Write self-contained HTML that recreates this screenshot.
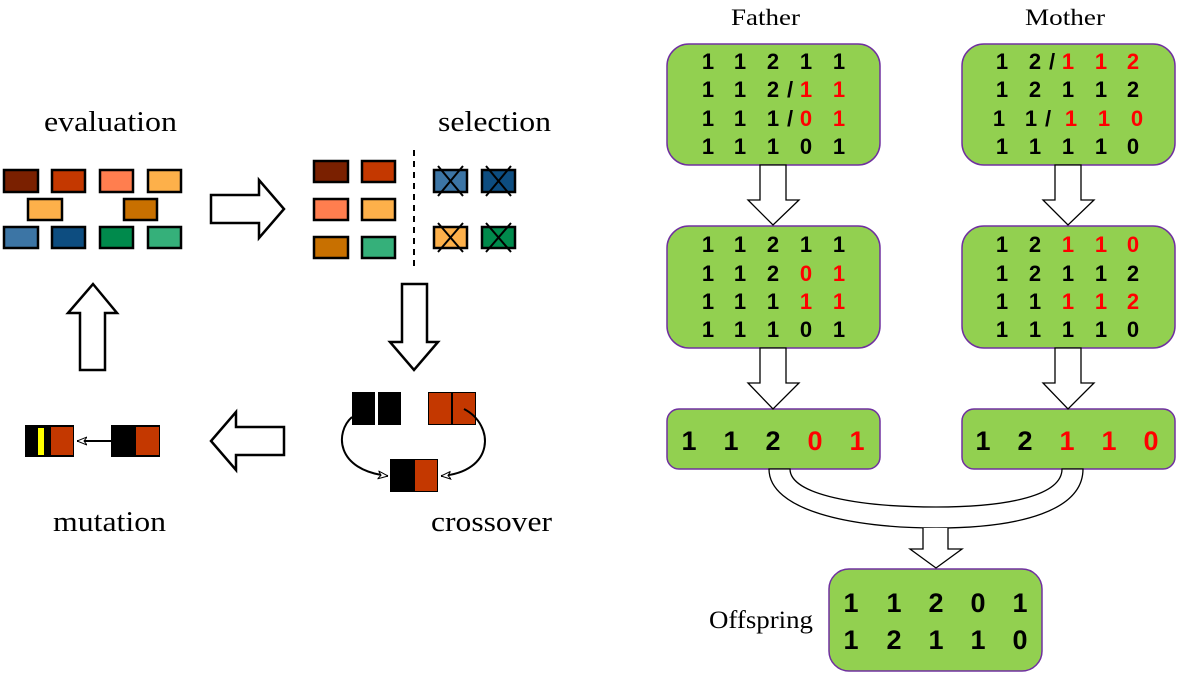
<!DOCTYPE html>
<html><head><meta charset="utf-8"><style>
html,body{margin:0;padding:0;background:#fff;}
svg{display:block;}
.lbl{font-family:"Liberation Serif",serif;font-size:29px;fill:#000;}
.d{font-family:"Liberation Sans",sans-serif;font-weight:bold;font-size:22px;text-anchor:middle;}
.D{font-family:"Liberation Sans",sans-serif;font-weight:bold;font-size:27px;text-anchor:middle;}
.r{fill:#f00;}
</style></head><body>
<svg width="1177" height="673" viewBox="0 0 1177 673" xmlns="http://www.w3.org/2000/svg">
<defs>
<marker id="ah" viewBox="0 0 10 10" refX="10" refY="5" markerWidth="10" markerHeight="10" markerUnits="userSpaceOnUse" orient="auto">
<path d="M0,1 L10,5 L0,9 L3,5 Z" fill="#fff" stroke="#000" stroke-width="1"/>
</marker>
</defs>
<!-- labels -->
<text class="lbl" x="44" y="131" textLength="133" lengthAdjust="spacingAndGlyphs">evaluation</text>
<text class="lbl" x="438" y="131" textLength="113" lengthAdjust="spacingAndGlyphs">selection</text>
<text class="lbl" x="53" y="531" textLength="113" lengthAdjust="spacingAndGlyphs">mutation</text>
<text class="lbl" x="431" y="531" textLength="121" lengthAdjust="spacingAndGlyphs">crossover</text>
<!-- evaluation rects -->
<g stroke="#000" stroke-width="2.5">
<rect x="4" y="170" width="34" height="22" fill="#7a2000"/>
<rect x="52" y="170" width="33" height="22" fill="#c43800"/>
<rect x="100" y="170" width="33" height="22" fill="#ff7e4f"/>
<rect x="148" y="170" width="33" height="22" fill="#fdb04a"/>
<rect x="28" y="199" width="34" height="21" fill="#fdb04a"/>
<rect x="124" y="199" width="33" height="21" fill="#c87000"/>
<rect x="4" y="227" width="34" height="21" fill="#3c75a5"/>
<rect x="52" y="227" width="33" height="21" fill="#0d4d80"/>
<rect x="100" y="227" width="33" height="21" fill="#008a4c"/>
<rect x="148" y="227" width="33" height="21" fill="#35b07a"/>
<!-- selection -->
<rect x="314" y="161" width="34" height="21" fill="#7a2000"/>
<rect x="362" y="161" width="33" height="21" fill="#c43800"/>
<rect x="314" y="199" width="34" height="21" fill="#ff7e4f"/>
<rect x="362" y="199" width="33" height="21" fill="#fdb04a"/>
<rect x="314" y="237" width="34" height="21" fill="#c87000"/>
<rect x="362" y="237" width="33" height="21" fill="#35b07a"/>
<rect x="434" y="170" width="33" height="22" fill="#3c75a5"/>
<rect x="482" y="170" width="33" height="22" fill="#0d4d80"/>
<rect x="434" y="227" width="33" height="21" fill="#fdb04a"/>
<rect x="482" y="227" width="33" height="21" fill="#008a4c"/>
</g>
<g stroke="#000" stroke-width="2">
<path d="M438,166 L463,196 M463,166 L438,196"/>
<path d="M486,166 L511,196 M511,166 L486,196"/>
<path d="M438,223 L463,252 M463,223 L438,252"/>
<path d="M486,223 L511,252 M511,223 L486,252"/>
</g>
<line x1="414" y1="150" x2="414" y2="267" stroke="#000" stroke-width="2" stroke-dasharray="6,5"/>
<!-- big arrows -->
<g fill="#fff" stroke="#000" stroke-width="2.5">
<path d="M211,195 L259,195 L259,180 L284,209 L259,238 L259,223 L211,223 Z"/>
<path d="M402,284 L427,284 L427,342 L438,342 L414,370 L390,342 L402,342 Z"/>
<path d="M284,427 L236,427 L236,412 L211,441 L236,470 L236,455 L284,455 Z"/>
<path d="M80,370 L80,313 L68,313 L93,284 L117,313 L105,313 L105,370 Z"/>
</g>
<!-- crossover -->
<rect x="352" y="392" width="23" height="33" fill="#000"/>
<rect x="378" y="392" width="23" height="33" fill="#000"/>
<rect x="428" y="392" width="48" height="33" fill="#000"/>
<rect x="429" y="393" width="22" height="31" fill="#c43800"/>
<rect x="453" y="393" width="22" height="31" fill="#c43800"/>
<rect x="390" y="459" width="48" height="33" fill="#000"/>
<rect x="415" y="460" width="22" height="31" fill="#c43800"/>
<path d="M352,417 C335,432 335,470 388,476" fill="none" stroke="#000" stroke-width="2" marker-end="url(#ah)"/>
<path d="M464,409 C495,425 495,472 441,476" fill="none" stroke="#000" stroke-width="2" marker-end="url(#ah)"/>
<!-- mutation -->
<rect x="25" y="425" width="49" height="32" fill="#000"/>
<rect x="38" y="428" width="6" height="27" fill="#ff0"/>
<rect x="51" y="427" width="22" height="28" fill="#c43800"/>
<rect x="111" y="425" width="49" height="32" fill="#000"/>
<rect x="136" y="427" width="23" height="28" fill="#c43800"/>
<line x1="111" y1="441" x2="77" y2="441" stroke="#000" stroke-width="2" marker-end="url(#ah)"/>

<!-- right side -->
<text class="lbl" x="731" y="25" textLength="69" lengthAdjust="spacingAndGlyphs" style="font-size:23px">Father</text>
<text class="lbl" x="1025" y="25" textLength="80" lengthAdjust="spacingAndGlyphs" style="font-size:23px">Mother</text>
<text class="lbl" x="709" y="628" textLength="104" lengthAdjust="spacingAndGlyphs" style="font-size:25px">Offspring</text>
<g fill="#92d050" stroke="#7030a0" stroke-width="1.5">
<rect x="667" y="44" width="213" height="121" rx="22"/>
<rect x="962" y="44" width="213" height="121" rx="22"/>
<rect x="667" y="226" width="213" height="122" rx="22"/>
<rect x="962" y="226" width="213" height="122" rx="22"/>
<rect x="667" y="409" width="213" height="60" rx="12"/>
<rect x="962" y="409" width="213" height="60" rx="12"/>
<rect x="829" y="569" width="213" height="102" rx="20"/>
</g>
<g fill="#fff" stroke="#000" stroke-width="1.3">
<path d="M760,165 L760,200 L748,200 L773,225 L799,200 L786,200 L786,165 Z"/>
<path d="M1055,165 L1055,200 L1043,200 L1068,225 L1094,200 L1081,200 L1081,165 Z"/>
<path d="M760,348 L760,383 L748,383 L773,409 L799,383 L786,383 L786,348 Z"/>
<path d="M1055,348 L1055,383 L1043,383 L1068,409 L1094,383 L1081,383 L1081,348 Z"/>
<path d="M769,469 C769,510 850,528 936,528 C1022,528 1083,510 1083,469 L1062,469 C1062,495 1010,507 936,507 C860,507 790,495 790,469 Z"/>
<path d="M923,528 L923,549 L910,549 L936,568 L962,549 L948,549 L948,528" />
</g>
<g class="d">
<text x="708" y="69">1</text><text x="740" y="69">1</text><text x="773" y="69">2</text><text x="806" y="69">1</text><text x="839" y="69">1</text>
<text x="708" y="97">1</text><text x="740" y="97">1</text><text x="773" y="97">2</text><text x="790" y="97">/</text><text x="806" y="97" class="r">1</text><text x="839" y="97" class="r">1</text>
<text x="708" y="126">1</text><text x="740" y="126">1</text><text x="773" y="126">1</text><text x="790" y="126">/</text><text x="806" y="126" class="r">0</text><text x="839" y="126" class="r">1</text>
<text x="708" y="154">1</text><text x="740" y="154">1</text><text x="773" y="154">1</text><text x="806" y="154">0</text><text x="839" y="154">1</text>
<text x="1002" y="69">1</text><text x="1035" y="69">2</text><text x="1052" y="69">/</text><text x="1068" y="69" class="r">1</text><text x="1101" y="69" class="r">1</text><text x="1133" y="69" class="r">2</text>
<text x="1002" y="97">1</text><text x="1035" y="97">2</text><text x="1068" y="97">1</text><text x="1101" y="97">1</text><text x="1133" y="97">2</text>
<text x="999" y="126">1</text><text x="1031" y="126">1</text><text x="1048" y="126">/</text><text x="1071" y="126" class="r">1</text><text x="1104" y="126" class="r">1</text><text x="1137" y="126" class="r">0</text>
<text x="1002" y="154">1</text><text x="1035" y="154">1</text><text x="1068" y="154">1</text><text x="1101" y="154">1</text><text x="1133" y="154">0</text>
<text x="708" y="252">1</text><text x="740" y="252">1</text><text x="773" y="252">2</text><text x="806" y="252">1</text><text x="839" y="252">1</text>
<text x="708" y="281">1</text><text x="740" y="281">1</text><text x="773" y="281">2</text><text x="806" y="281" class="r">0</text><text x="839" y="281" class="r">1</text>
<text x="708" y="309">1</text><text x="740" y="309">1</text><text x="773" y="309">1</text><text x="806" y="309" class="r">1</text><text x="839" y="309" class="r">1</text>
<text x="708" y="337">1</text><text x="740" y="337">1</text><text x="773" y="337">1</text><text x="806" y="337">0</text><text x="839" y="337">1</text>
<text x="1002" y="252">1</text><text x="1035" y="252">2</text><text x="1068" y="252" class="r">1</text><text x="1101" y="252" class="r">1</text><text x="1133" y="252" class="r">0</text>
<text x="1002" y="281">1</text><text x="1035" y="281">2</text><text x="1068" y="281">1</text><text x="1101" y="281">1</text><text x="1133" y="281">2</text>
<text x="1002" y="309">1</text><text x="1035" y="309">1</text><text x="1068" y="309" class="r">1</text><text x="1101" y="309" class="r">1</text><text x="1133" y="309" class="r">2</text>
<text x="1002" y="337">1</text><text x="1035" y="337">1</text><text x="1068" y="337">1</text><text x="1101" y="337">1</text><text x="1133" y="337">0</text>
</g>
<g class="D">
<text x="689" y="450">1</text><text x="731" y="450">1</text><text x="773" y="450">2</text><text x="815" y="450" class="r">0</text><text x="857" y="450" class="r">1</text>
<text x="983" y="450">1</text><text x="1025" y="450">2</text><text x="1067" y="450" class="r">1</text><text x="1109" y="450" class="r">1</text><text x="1151" y="450" class="r">0</text>
<text x="851" y="612">1</text><text x="894" y="612">1</text><text x="936" y="612">2</text><text x="978" y="612">0</text><text x="1020" y="612">1</text>
<text x="851" y="649">1</text><text x="894" y="649">2</text><text x="936" y="649">1</text><text x="978" y="649">1</text><text x="1020" y="649">0</text>
</g>
</svg>
</body></html>
